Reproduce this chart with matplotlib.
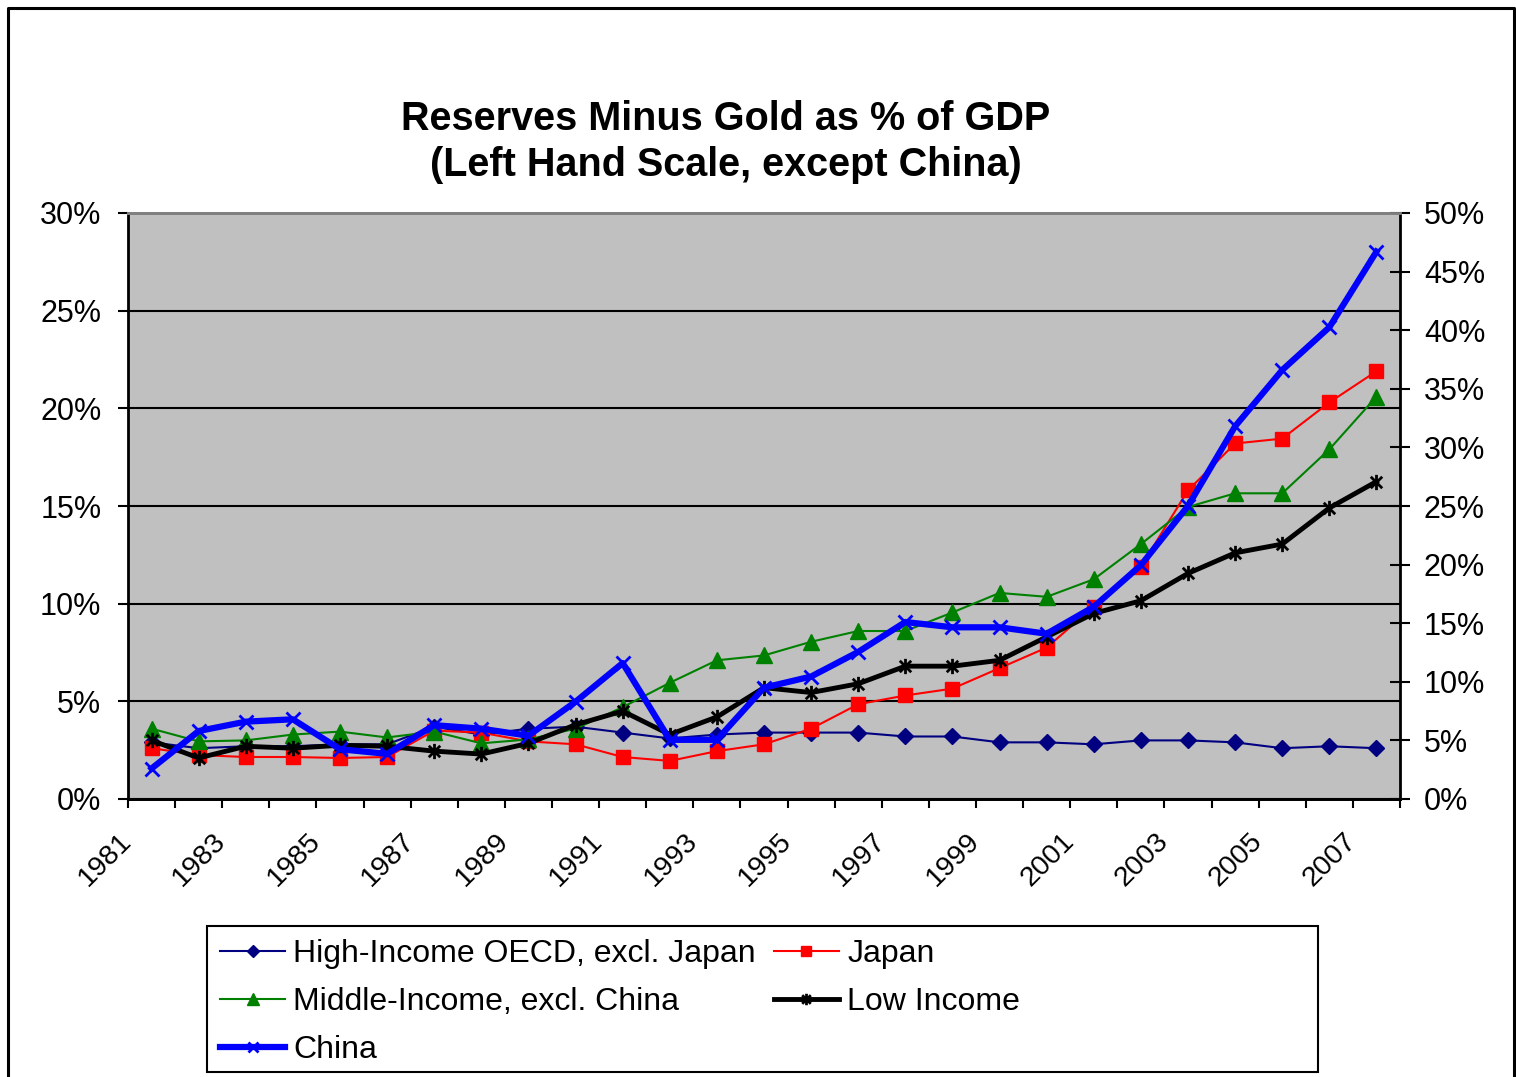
import matplotlib
matplotlib.use("Agg")
import matplotlib.pyplot as plt
from matplotlib.path import Path
from matplotlib.lines import Line2D
from matplotlib.patches import Rectangle

plt.rcParams['font.family'] = ['Liberation Sans', 'DejaVu Sans']

years = list(range(1981, 2008))
high_income = [2.9, 2.6, 2.7, 2.7, 2.8, 2.8, 3.7, 3.3, 3.6, 3.7, 3.4, 3.1, 3.3, 3.4,
               3.4, 3.4, 3.2, 3.2, 2.9, 2.9, 2.8, 3.0, 3.0, 2.9, 2.6, 2.7, 2.6]
japan = [2.6, 2.25, 2.15, 2.15, 2.1, 2.15, 3.5, 3.4, 2.95, 2.8, 2.15, 1.95, 2.45, 2.8,
         3.6, 4.85, 5.3, 5.65, 6.7, 7.75, 9.85, 11.9, 15.8, 18.2, 18.45, 20.3, 21.9]
middle_income = [3.6, 2.95, 3.0, 3.3, 3.45, 3.15, 3.45, 2.85, 3.05, 3.6, 4.7, 5.95, 7.1, 7.35,
                 8.05, 8.6, 8.6, 9.55, 10.55, 10.35, 11.25, 13.05, 14.95, 15.65, 15.65, 17.9, 20.6]
low_income = [3.0, 2.1, 2.7, 2.6, 2.75, 2.7, 2.45, 2.3, 2.85, 3.8, 4.5, 3.3, 4.2, 5.7,
              5.45, 5.9, 6.8, 6.8, 7.1, 8.3, 9.5, 10.15, 11.55, 12.6, 13.05, 14.9, 16.25]
china = [2.6, 5.8, 6.6, 6.8, 4.25, 3.85, 6.3, 6.0, 5.4, 8.3, 11.6, 5.05, 5.05, 9.5,
         10.45, 12.55, 15.1, 14.65, 14.65, 14.1, 16.4, 19.95, 25.0, 31.8, 36.6, 40.25, 46.7]

left_ticks = [0, 5, 10, 15, 20, 25, 30]
right_ticks = [0, 5, 10, 15, 20, 25, 30, 35, 40, 45, 50]
title = "Reserves Minus Gold as % of GDP\n(Left Hand Scale, except China)"
labels = ["High-Income OECD, excl. Japan", "Japan", "Middle-Income, excl. China",
          "Low Income", "China"]

W, H = 1516, 1077
fig = plt.figure(figsize=(W / 100, H / 100), dpi=100)
fig.patch.set_facecolor('white')

ax = fig.add_axes([128 / W, 1 - 799 / H, (1400 - 128) / W, (799 - 213) / H])
ax.set_facecolor('#C0C0C0')
ax2 = ax.twinx()

x = list(range(len(years)))

star = Path([(0, -1), (0, 1), (-0.75, -0.75), (0.75, 0.75), (-0.75, 0.75), (0.75, -0.75)],
            [Path.MOVETO, Path.LINETO] * 3)

l1, = ax.plot(x, high_income, color='#000080', lw=1.5, marker='D', ms=8.5,
              mfc='#000080', mec='#000080', zorder=3)
l2, = ax.plot(x, japan, color='#FF0000', lw=1.5, marker='s', ms=10,
              mfc='#FF0000', mec='#FF0000', zorder=3)
l3, = ax.plot(x, middle_income, color='#008000', lw=1.5, marker='^', ms=11,
              mfc='#008000', mec='#008000', zorder=3)
l4, = ax.plot(x, low_income, color='black', lw=3.5, marker=star, ms=11,
              mfc='none', mec='black', mew=2, zorder=3)
l5, = ax2.plot(x, china, color='#0000FF', lw=4.5, marker='x', ms=10,
               mec='#0000FF', mew=2, zorder=3)

ax.set_xlim(-0.5, len(years) - 0.5)
ax.set_ylim(0, 30)
ax2.set_ylim(0, 50)

ax.set_yticks(left_ticks)
ax.set_yticklabels([f"{v}%" for v in left_ticks])
ax2.set_yticks(right_ticks)
ax2.set_yticklabels([f"{v}%" for v in right_ticks])

bounds = [i - 0.5 for i in range(len(years) + 1)]
xlabels = []
for i in range(len(years) + 1):
    if i < len(years) and (years[i] - 1981) % 2 == 0:
        xlabels.append(str(years[i]))
    else:
        xlabels.append('')
ax.set_xticks(bounds)
ax.set_xticklabels(xlabels, rotation=45, ha='right', va='center', rotation_mode='anchor')

ax.yaxis.grid(True, color='black', lw=1.5)
ax.xaxis.grid(False)
ax.set_axisbelow(True)

ax.tick_params(axis='y', direction='out', length=7.2, width=1.5, pad=12, labelsize=22)
ax.tick_params(axis='x', direction='out', length=6.5, width=1.5, pad=21, labelsize=20.5)
ax2.tick_params(axis='y', direction='inout', length=14.4, width=1.5, pad=10, labelsize=22)

for a in (ax, ax2):
    for s in ('left', 'bottom', 'right'):
        a.spines[s].set_color('black')
        a.spines[s].set_linewidth(2)
    a.spines['top'].set_color('#808080')
    a.spines['top'].set_linewidth(2)
ax.spines['right'].set_visible(False)
ax2.spines['left'].set_visible(False)

fig.text(726 / W, 1 - 142 / H, title, ha='center', va='center', fontsize=28.5,
         fontweight='bold', linespacing=1.28)

# legend
fig.patches.append(Rectangle((207 / W, 1 - 1072 / H), (1318 - 207) / W, (1072 - 926) / H,
                             transform=fig.transFigure, fill=False, edgecolor='black',
                             lw=1.5, figure=fig))
fig.legend([l1, l3, l5, l2, l4], [labels[0], labels[2], labels[4], labels[1], labels[3]],
           ncol=2, loc='upper left', bbox_to_anchor=(220 / W, 1 - 939 / H),
           bbox_transform=fig.transFigure, frameon=False, fontsize=23,
           borderpad=0, borderaxespad=0, handlelength=2.05, handletextpad=0.25,
           columnspacing=0.55, labelspacing=0.56, markerscale=0.75)

# outer border
fig.add_artist(Line2D([8 / W, 8 / W, 1514 / W, 1514 / W], [-0.01, 1 - 8 / H, 1 - 8 / H, -0.01],
                      transform=fig.transFigure, color='black', lw=2.2))

fig.savefig('out.png', dpi=100, facecolor='white')
